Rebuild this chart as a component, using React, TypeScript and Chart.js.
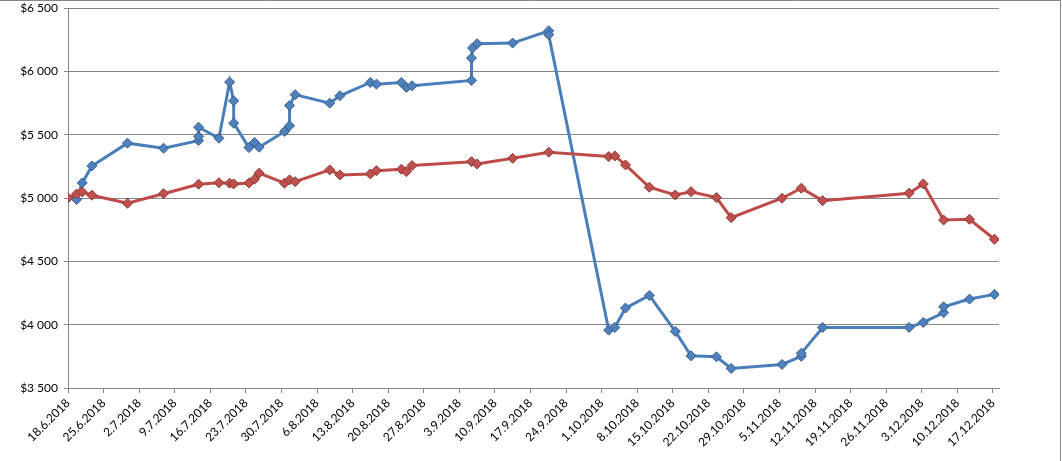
import { useEffect, useRef } from "react"
import Chart from "chart.js/auto"

// days counted from 18.6.2018
const blueDays = [0, 1.7, 2.8, 4.7, 11.7, 18.8, 25.7, 25.7, 25.7, 29.7, 31.8, 32.6, 32.6, 35.6, 36.7, 37.6, 42.6, 43.6, 43.6, 44.7, 51.5, 53.5, 59.5, 60.7, 65.6, 66.6, 67.7, 79.4, 79.4, 79.6, 80.5, 87.5, 94.6, 94.6, 106.4, 107.6, 109.7, 114.4, 119.5, 122.6, 127.6, 130.5, 140.5, 144.3, 144.3, 148.5, 165.5, 168.3, 172.3, 172.3, 177.4, 182.3]
const blueValues = [5000, 4988, 5119, 5253, 5433, 5393, 5453, 5485, 5559, 5472, 5915, 5767, 5591, 5398, 5438, 5401, 5525, 5570, 5730, 5816, 5749, 5807, 5912, 5899, 5912, 5873, 5886, 5928, 6105, 6184, 6218, 6223, 6320, 6289, 3957, 3978, 4131, 4231, 3947, 3754, 3746, 3654, 3686, 3750, 3775, 3978, 3978, 4018, 4094, 4141, 4202, 4239]

const redDays = [0, 1.7, 2.8, 4.7, 11.7, 18.8, 25.7, 29.7, 31.8, 32.6, 35.6, 36.7, 37.6, 42.6, 43.6, 44.7, 51.5, 53.5, 59.5, 60.7, 65.6, 66.6, 67.7, 79.4, 80.5, 87.5, 94.6, 106.4, 107.6, 109.7, 114.4, 119.5, 122.6, 127.6, 130.5, 140.5, 144.3, 148.5, 165.5, 168.3, 172.3, 177.4, 182.3]
const redValues = [5000, 5032, 5048, 5022, 4958, 5034, 5109, 5121, 5117, 5111, 5119, 5148, 5196, 5117, 5143, 5129, 5222, 5182, 5190, 5216, 5227, 5208, 5256, 5287, 5269, 5314, 5362, 5327, 5332, 5261, 5085, 5024, 5050, 5003, 4845, 4998, 5077, 4979, 5038, 5111, 4826, 4832, 4674]

const tickDays = [0, 7, 14, 21, 28, 35, 42, 49, 56, 63, 70, 77, 84, 91, 98, 105, 112, 119, 126, 133, 140, 147, 154, 161, 168, 175, 182]
const tickLabels = ["18.6.2018", "25.6.2018", "2.7.2018", "9.7.2018", "16.7.2018", "23.7.2018", "30.7.2018", "6.8.2018", "13.8.2018", "20.8.2018", "27.8.2018", "3.9.2018", "10.9.2018", "17.9.2018", "24.9.2018", "1.10.2018", "8.10.2018", "15.10.2018", "22.10.2018", "29.10.2018", "5.11.2018", "12.11.2018", "19.11.2018", "26.11.2018", "3.12.2018", "10.12.2018", "17.12.2018"]

const yTicks = [3500, 4000, 4500, 5000, 5500, 6000, 6500]
const yTickLabels = ["$3 500", "$4 000", "$4 500", "$5 000", "$5 500", "$6 000", "$6 500"]

const axisGray = "#868686"

const frame = {
  id: "frame",
  afterDraw(chart) {
    const { ctx, width } = chart
    ctx.save()
    ctx.strokeStyle = axisGray
    ctx.lineWidth = 1
    ctx.beginPath()
    ctx.moveTo(0, 0.5)
    ctx.lineTo(width - 1.5, 0.5)
    ctx.lineTo(width - 1.5, chart.height)
    ctx.stroke()
    ctx.restore()
  },
}

export default function App() {
  const canvasRef = useRef(null)
  const chartRef = useRef(null)

  useEffect(() => {
    document.body.style.margin = "0"
    if (chartRef.current) chartRef.current.destroy()

    const font = { family: "Lato", size: 12 }

    chartRef.current = new Chart(canvasRef.current, {
      type: "line",
      data: {
        datasets: [
          {
            label: "red",
            data: redDays.map((d, i) => ({ x: d, y: redValues[i] })),
            borderColor: "#BE4B48",
            borderWidth: 3,
            backgroundColor: "#C0504D",
            pointStyle: "rectRot",
            pointRadius: 5,
            pointBorderColor: "#8C3836",
            pointBorderWidth: 1,
            tension: 0,
          },
          {
            label: "blue",
            data: blueDays.map((d, i) => ({ x: d, y: blueValues[i] })),
            borderColor: "#4A7EBB",
            borderWidth: 3,
            backgroundColor: "#4F81BD",
            pointStyle: "rectRot",
            pointRadius: 5,
            pointBorderColor: "#385D8A",
            pointBorderWidth: 1,
            tension: 0,
          },
        ],
      },
      options: {
        animation: false,
        responsive: false,
        devicePixelRatio: 1,
        layout: { padding: { top: 8, right: 63, left: 0, bottom: 0 } },
        plugins: { legend: { display: false }, tooltip: { enabled: false } },
        scales: {
          x: {
            type: "linear",
            min: 0,
            max: 183.2,
            afterBuildTicks: (s) => {
              s.ticks = tickDays.map((v) => ({ value: v }))
            },
            afterFit: (s) => {
              s.height = 73
            },
            ticks: {
              autoSkip: false,
              maxRotation: 45,
              minRotation: 45,
              padding: 3,
              color: "#000",
              font,
              callback: (v, i) => tickLabels[i],
            },
            grid: { drawOnChartArea: false, tickLength: 5, color: axisGray },
            border: { color: axisGray },
          },
          y: {
            min: 3500,
            max: 6500,
            afterBuildTicks: (s) => {
              s.ticks = yTicks.map((v) => ({ value: v }))
            },
            afterFit: (s) => {
              s.width = 68
              s.paddingTop = 0
              s.paddingBottom = 0
            },
            ticks: {
              padding: 6,
              color: "#000",
              font,
              callback: (v, i) => yTickLabels[i],
            },
            grid: { color: axisGray, tickLength: 4 },
            border: { color: axisGray },
          },
        },
      },
      plugins: [frame],
    })

    return () => {
      if (chartRef.current) {
        chartRef.current.destroy()
        chartRef.current = null
      }
    }
  }, [])

  return (
    <div style={{ width: 1062, height: 461, background: "#fff" }}>
      <canvas ref={canvasRef} width={1062} height={461}></canvas>
    </div>
  )
}
